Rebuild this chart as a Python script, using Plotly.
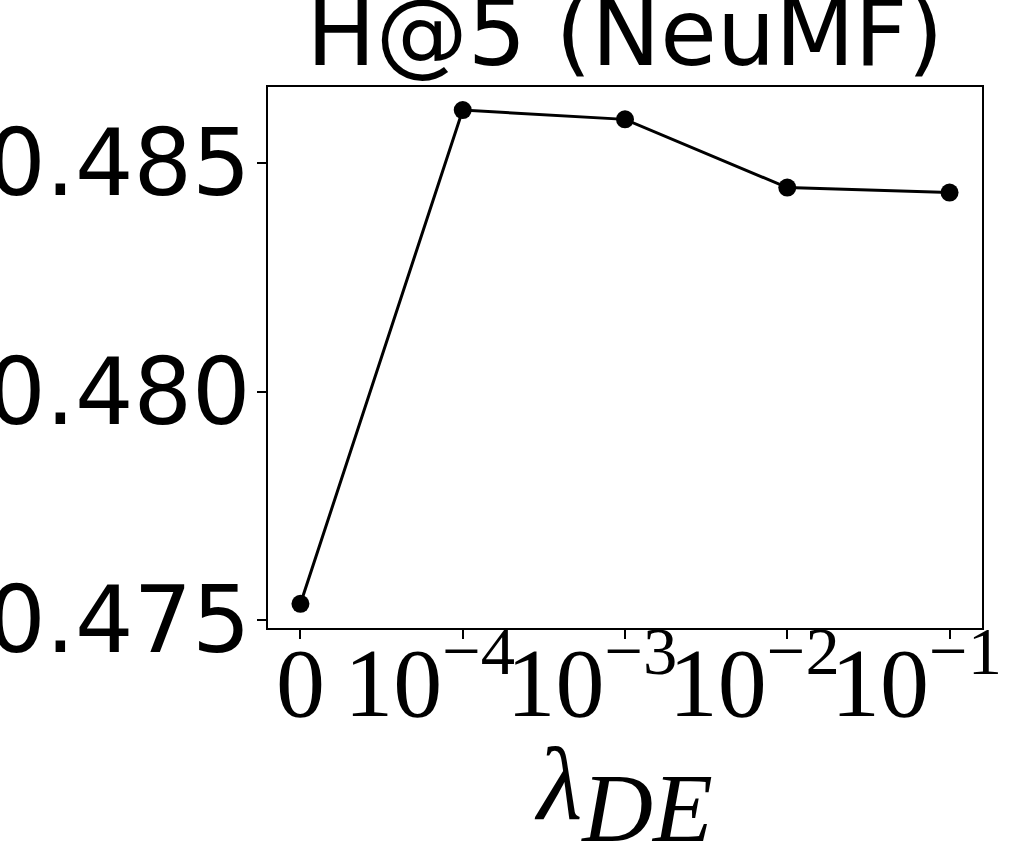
import plotly.graph_objects as go

pad = "&nbsp;&nbsp;<sup>&nbsp;</sup>"
categories = ["0", "10<sup>−4</sup>" + pad, "10<sup>−3</sup>" + pad,
              "10<sup>−2</sup>" + pad, "10<sup>−1</sup>" + pad]
positions = [0, 1, 2, 3, 4]
values = [0.47535, 0.486165, 0.485961, 0.484467, 0.484358]
y_ticks = [0.475, 0.480, 0.485]
y_tick_labels = ["0.475", "0.480", "0.485"]

fig = go.Figure()
fig.add_trace(go.Scatter(
    x=positions, y=values, mode="lines+markers",
    line=dict(color="black", width=3),
    marker=dict(color="black", size=18),
    showlegend=False,
    cliponaxis=False,
))

fig.update_layout(
    width=1026, height=862,
    paper_bgcolor="white", plot_bgcolor="white",
    margin=dict(l=268, r=44, t=87, b=234),
    title=dict(
        text="H@5 (NeuMF)",
        font=dict(family="DejaVu Sans", size=92, color="black"),
        x=0.5, xref="paper", xanchor="center",
        y=1, yref="paper", yanchor="bottom",
        pad=dict(b=22),
    ),
)
fig.update_xaxes(
    range=[-0.2, 4.2],
    tickmode="array", tickvals=positions, ticktext=categories,
    tickangle=0,
    ticks="outside", ticklen=9, tickwidth=2, tickcolor="black",
    showline=True, linecolor="black", linewidth=2, mirror=True,
    showgrid=False, zeroline=False,
    tickfont=dict(family="Liberation Serif", size=98, color="black"),
    ticklabeloverflow="allow",
    ticklabelstandoff=-41,
    title=dict(text='<i>λ</i><sub><span style="font-size:98px"><i>DE</i></span></sub>',
               font=dict(family="Liberation Serif", size=104, color="black"),
               standoff=48),
    automargin=False,
)
fig.update_yaxes(
    range=[0.47482, 0.48667],
    tickmode="array", tickvals=y_ticks, ticktext=y_tick_labels,
    ticks="outside", ticklen=9, tickwidth=2, tickcolor="black",
    showline=True, linecolor="black", linewidth=2, mirror=True,
    showgrid=False, zeroline=False,
    tickfont=dict(family="DejaVu Sans", size=92, color="black"),
    ticklabeloverflow="allow",
    ticklabelstandoff=-12,
    automargin=False,
)

fig.write_html("out.html", config={"displayModeBar": False},
               post_script="document.body.style.margin='0';")
